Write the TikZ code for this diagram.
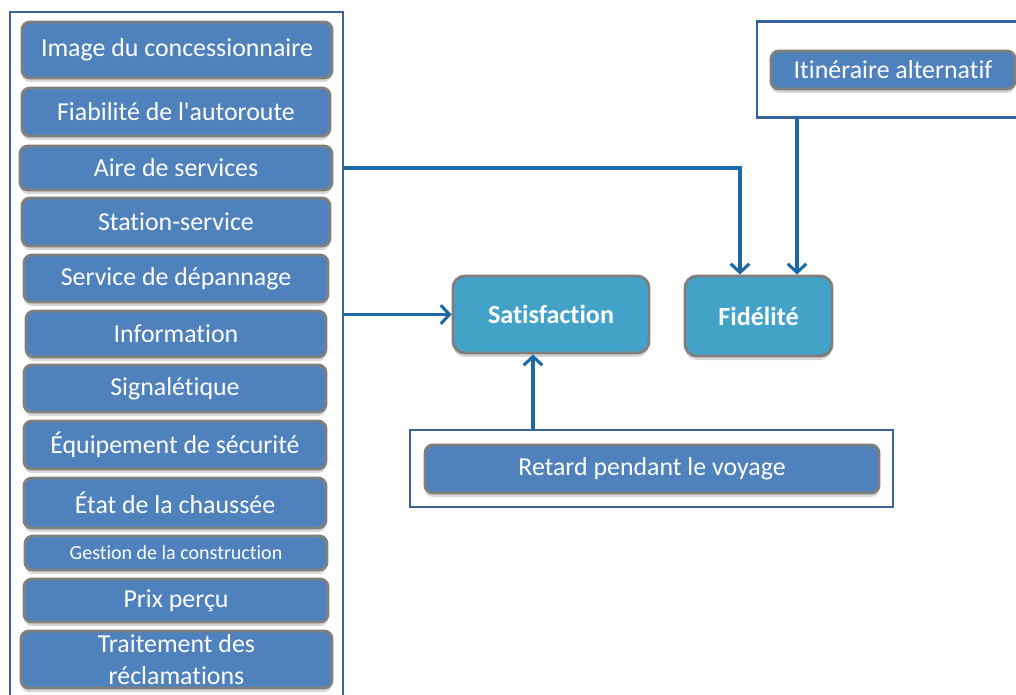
\documentclass[tikz,border=0pt]{standalone}
\usepackage{fontspec}
\setmainfont{Carlito}[Ligatures={NoCommon,TeXOff}]
\usetikzlibrary{arrows.meta,shadows,calc}
\definecolor{framec}{HTML}{3A6399}
\definecolor{linkc}{HTML}{1B6AA7}
\definecolor{boxfill}{HTML}{4F81BD}
\definecolor{keyfill}{HTML}{43A2C8}
\definecolor{boxedge}{HTML}{7F7F7F}
\tikzset{
  x=0.75pt, y=-0.75pt,
  frame/.style={draw=framec, line width=2pt, fill=white},
  factor/.style={draw=boxedge, line width=2.2pt, fill=boxfill, rounded corners=6pt,
    text=white, font=\fontsize{19.4pt}{21pt}\selectfont, inner sep=0pt, align=center,
    drop shadow={shadow xshift=0pt, shadow yshift=-3pt, fill=black!30, opacity=0.5}},
  keybox/.style={draw=boxedge, line width=2.2pt, fill=keyfill, rounded corners=9pt,
    text=white, font=\fontsize{19.6pt}{21pt}\selectfont\bfseries, inner sep=0pt,
    drop shadow={shadow xshift=0pt, shadow yshift=-3pt, fill=black!30, opacity=0.5}},
  link/.style={draw=linkc, line width=2.3pt,
    -{Straight Barb[length=6.5pt, width=14pt, line width=2.3pt]}},
}
\begin{document}
\begin{tikzpicture}
\clip (0,0) rectangle (1016,695);
\fill[white] (0,0) rectangle (1016,695);

% frames grouping the determinants
\node[frame, minimum width=249.75pt, minimum height=531pt, inner sep=0pt] (leftframe) at (176.5,366) {};
\node[frame, minimum width=210pt, minimum height=72pt, inner sep=0pt] (altframe) at (897,69.5) {};
\node[frame, minimum width=362.25pt, minimum height=57.75pt, inner sep=0pt] (delayframe) at (651.5,468.5) {};

% determinants of satisfaction and loyalty
\node[factor, minimum width=232.5pt, minimum height=42pt] (f1) at (177,50) {Image du concessionnaire};
\node[factor, minimum width=231pt, minimum height=36pt] (f2) at (176,112) {Fiabilité de l'autoroute};
\node[factor, minimum width=234pt, minimum height=33pt] (f3) at (176,168) {Aire de services};
\node[factor, minimum width=231pt, minimum height=36pt] (f4) at (176,222) {Station-service};
\node[factor, minimum width=228pt, minimum height=35.25pt] (f5) at (176,278.5) {Service de dépannage};
\node[factor, minimum width=225pt, minimum height=34.5pt] (f6) at (176,334) {Information};
\node[factor, minimum width=226.5pt, minimum height=35.25pt] (f7) at (175,388.5) {Signalétique};
\node[factor, minimum width=226.5pt, minimum height=36pt] (f8) at (175,445) {Équipement de sécurité};
\node[factor, minimum width=226.5pt, minimum height=37.5pt] (f9) at (175,503) {État de la chaussée};
\node[factor, minimum width=226.5pt, minimum height=25.5pt, font=\fontsize{15pt}{16pt}\selectfont] (f10) at (176,553) {Gestion de la construction};
\node[factor, minimum width=228pt, minimum height=32.25pt] (f11) at (176,600.5) {Prix perçu};
\node[factor, minimum width=233.25pt, minimum height=42.75pt, font=\fontsize{19.4pt}{24pt}\selectfont] (f12) at (176.5,659.5) {Traitement des\\réclamations};

\node[factor, minimum width=183pt, minimum height=28.5pt] (alt) at (893,70) {Itinéraire alternatif};
\node[factor, minimum width=340.5pt, minimum height=36pt] (delay) at (652,469) {Retard pendant le voyage};

% outcomes
\node[keybox, minimum width=147pt, minimum height=57.75pt] (sat) at (551,314.5) {Satisfaction};
\node[keybox, minimum width=110.25pt, minimum height=60pt] (fid) at (758.5,316) {Fidélité};

% arrow landing points
\coordinate (fidA) at ($(fid.north)+(-18.5,0)$);
\coordinate (fidB) at ($(fid.north)+(38.5,0)$);
\coordinate (satB) at ($(sat.south)+(-18,0)$);

% relations
\draw[link] (leftframe.east |- f3) -| (fidA);
\draw[link] (leftframe.east |- sat.west) -- (sat.west);
\draw[link] (altframe.south -| fidB) -- (fidB);
\draw[link] (delayframe.north -| satB) -- (satB);
\end{tikzpicture}
\end{document}
